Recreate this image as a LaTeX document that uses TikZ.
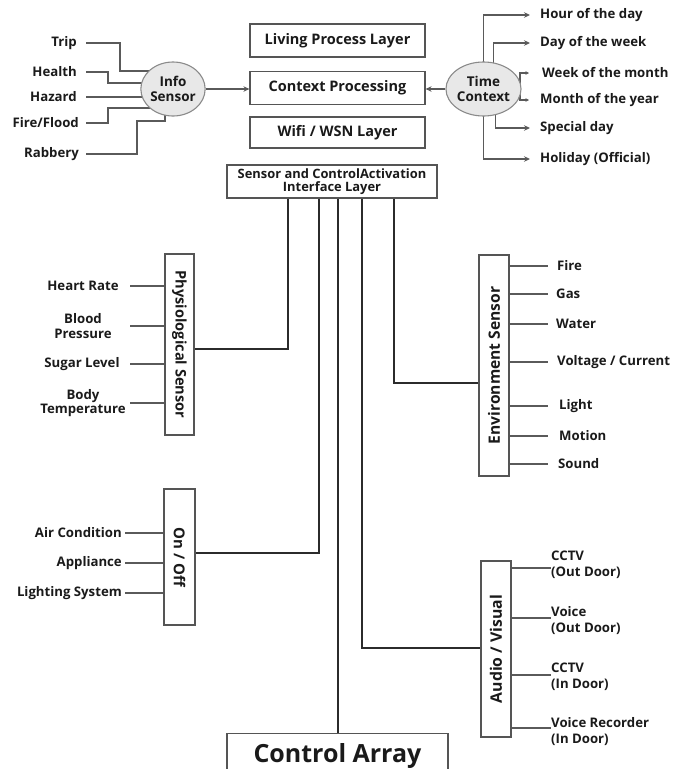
\documentclass[tikz,border=0pt]{standalone}
\usepackage{fontspec}
\setmainfont{Open Sans}
\usepackage{graphicx}
\usetikzlibrary{arrows.meta,shapes.geometric}
\pgfdeclarelayer{bg}
\pgfsetlayers{bg,main}
\definecolor{txt}{HTML}{1A1A1A}
\definecolor{conncol}{HTML}{2B2B2B}
\definecolor{boxcol}{HTML}{555555}
\definecolor{linecol}{HTML}{5A5A5A}
\definecolor{ellfill}{HTML}{E8E8E8}
\definecolor{ellline}{HTML}{8A8A8A}
\begin{document}
\begin{tikzpicture}[x=1pt,y=-1pt,
  every node/.style={text=txt},
  lbl/.style={font=\fontsize{13.2}{14.5}\selectfont\bfseries, inner sep=0pt},
  avlbl/.style={font=\fontsize{13.2}{16}\selectfont\bfseries, inner sep=0pt, anchor=west, align=left},
  boxtxt/.style={font=\fontsize{14.5}{16}\selectfont\bfseries},
  box/.style={draw=boxcol, line width=1.2pt, fill=white, inner sep=0pt, boxtxt},
  ell/.style={ellipse, draw=ellline, line width=1.1pt, fill=ellfill, inner sep=0pt, align=center, font=\fontsize{13.5}{14.5}\selectfont\bfseries},
  conn/.style={draw=conncol, line width=1.8pt},
  lline/.style={draw=linecol, line width=1.1pt},
  arr/.style={-{Stealth[length=6pt,width=5.5pt]}},
  sarr/.style={{Stealth[length=3.5pt,width=3.5pt]}-{Stealth[length=3.5pt,width=3.5pt]}}
]
\useasboundingbox (0,0) rectangle (673,769);
\clip (0,0) rectangle (673,769);

% ---------- top centre layers ----------
\node[box, minimum width=175, minimum height=33] (lpl) at (337.5,40.5) {Living Process Layer};
\node[box, minimum width=175, minimum height=33] (ctx) at (337.5,88) {Context Processing};
\node[box, minimum width=175, minimum height=31] (wifi) at (337.5,132.5) {Wifi / WSN Layer};
\node[box, minimum width=210, minimum height=33, align=center, font=\fontsize{12.9}{13.5}\selectfont\bfseries] (ifl) at (332,181.5) {Sensor and ControlActivation\\Interface Layer};

% ---------- info sensor ----------
\node[ell, minimum width=62, minimum height=54] (info) at (173,89) {Info\\Sensor};
\node[lbl, anchor=east] (trip) at (77,43) {Trip};
\node[lbl, anchor=east] (health) at (77,72) {Health};
\node[lbl, anchor=east] (hazard) at (77,97) {Hazard};
\node[lbl, anchor=east] (fire) at (79,123) {Fire/Flood};
\node[lbl, anchor=east] (rab) at (79,154) {Rabbery};

% ---------- time context ----------
\node[ell, minimum width=63, minimum height=54] (tc) at (483.5,89) {Time\\Context};
\node[lbl, anchor=west] (hour) at (540,15) {Hour of the day};
\node[lbl, anchor=west] (day) at (540,43) {Day of the week};
\node[lbl, anchor=west] (week) at (542,73) {Week of the month};
\node[lbl, anchor=west] (month) at (540,100) {Month of the year};
\node[lbl, anchor=west] (spec) at (540,128) {Special day};
\node[lbl, anchor=west] (hol) at (540,159) {Holiday (Official)};

\begin{pgfonlayer}{bg}
  \draw[lline] (trip -| 86,0) -| (120,71) -- (info.center |- 0,71);
  \draw[lline] (health -| 86,0) -| (108,83) -- (info.center |- 0,83);
  \draw[lline] (hazard -| 86,0) -- (info.center |- hazard);
  \draw[lline] (fire -| 86,0) -| (108,108) -- (info.center |- 0,108);
  \draw[lline] (rab -| 86,0) -| (137,121) -| ([xshift=-8]info.center);
  \draw[lline, arr] (tc.center) |- (hour -| 530,0);
  \draw[lline, arr] ([xshift=10]tc.center) |- (day -| 530,0);
  \draw[lline] (tc.center) -- (tc.center -| 520,0);
  \draw[lline, sarr] (week -| 529,0) -| (520,88) |- (month -| 529,0);
  \draw[lline, arr] ([xshift=12]tc.center) |- (spec -| 530,0);
  \draw[lline, arr] (tc.center) |- (hol -| 530,0);
\end{pgfonlayer}
\draw[lline, arr] (info.east) -- (ctx.west |- info.east);
\draw[lline, arr] (tc.west) -- (ctx.east |- tc.west);

% ---------- physiological sensor ----------
\node[box, minimum width=29, minimum height=181] (phys) at (179.5,344.5) {\rotatebox{-90}{\fontsize{14.6}{16}\selectfont\bfseries Physiological Sensor}};
\node[lbl, align=center] (hr) at (83,286) {Heart Rate};
\node[lbl, align=center] (bp) at (83,326) {Blood\\Pressure};
\node[lbl, align=center] (sl) at (82,364) {Sugar Level};
\node[lbl, align=center] (bt) at (83,403) {Body\\Temperature};
\draw[lline] (hr -| 130,0) -- (phys.west |- hr);
\draw[lline] (bp -| 130,0) -- (phys.west |- bp);
\draw[lline] (sl -| 130,0) -- (phys.west |- sl);
\draw[lline] (bt -| 130,0) -- (phys.west |- bt);

% ---------- on / off ----------
\node[box, minimum width=31, minimum height=136] (onoff) at (179.5,557) {\rotatebox{-90}{\fontsize{15}{17}\selectfont\bfseries On / Off}};
\node[lbl, anchor=east] (ac) at (122,533) {Air Condition};
\node[lbl, anchor=east] (app) at (122,563) {Appliance};
\node[lbl, anchor=east] (ls) at (122,593) {Lighting System};
\draw[lline] ([xshift=3]ac.east) -- (onoff.west |- ac);
\draw[lline] ([xshift=3]app.east) -- (onoff.west |- app);
\draw[lline] ([xshift=3]ls.east) -- (onoff.west |- ls);

% ---------- environment sensor ----------
\node[box, minimum width=30, minimum height=221] (env) at (494,365.5) {\rotatebox{90}{\fontsize{15.6}{17}\selectfont\bfseries Environment Sensor}};
\node[lbl, anchor=west] (efire) at (557,266) {Fire};
\node[lbl, anchor=west] (egas) at (556,294) {Gas};
\node[lbl, anchor=west] (ewat) at (556,324) {Water};
\node[lbl, anchor=west] (evc) at (557,362) {Voltage / Current};
\node[lbl, anchor=west] (elight) at (559,406) {Light};
\node[lbl, anchor=west] (emot) at (559,436) {Motion};
\node[lbl, anchor=west] (esnd) at (558,464) {Sound};
\foreach \n in {efire,egas,ewat,evc,elight,emot,esnd}
  \draw[lline] (env.east |- \n) -- (\n -| 548,0);

% ---------- audio / visual ----------
\node[box, minimum width=30, minimum height=176] (av) at (496,649) {\rotatebox{90}{\fontsize{15.8}{17}\selectfont\bfseries Audio / Visual}};
\node[avlbl] (cco) at (551,565) {CCTV\\(Out Door)};
\node[avlbl] (vo) at (551,621) {Voice\\(Out Door)};
\node[avlbl] (cci) at (551,677) {CCTV\\(In Door)};
\node[avlbl] (vr) at (551,732) {Voice Recorder\\(In Door)};
\draw[lline] (av.east |- 0,568) -- (cco.west |- 0,568);
\draw[lline] (av.east |- 0,618) -- (vo.west |- 0,618);
\draw[lline] (av.east |- 0,675) -- (cci.west |- 0,675);
\draw[lline] (av.east |- 0,728) -- (vr.west |- 0,728);

% ---------- control array ----------
\node[box, minimum width=221, minimum height=44, anchor=north, font=\fontsize{25}{28}\selectfont\bfseries] (ca) at (337.5,733) {Control Array};

% ---------- connectors from interface layer ----------
\draw[conn] (ifl.south -| 288,0) |- (phys.east |- 0,349);
\draw[conn] (ifl.south -| 319,0) |- (onoff.east |- 0,553);
\draw[conn] (ifl.south -| 338,0) -- (ca.north -| 338,0);
\draw[conn] (ifl.south -| 362,0) |- (av.west |- 0,648);
\draw[conn] (ifl.south -| 394,0) |- (env.west |- 0,383);
\end{tikzpicture}
\end{document}
